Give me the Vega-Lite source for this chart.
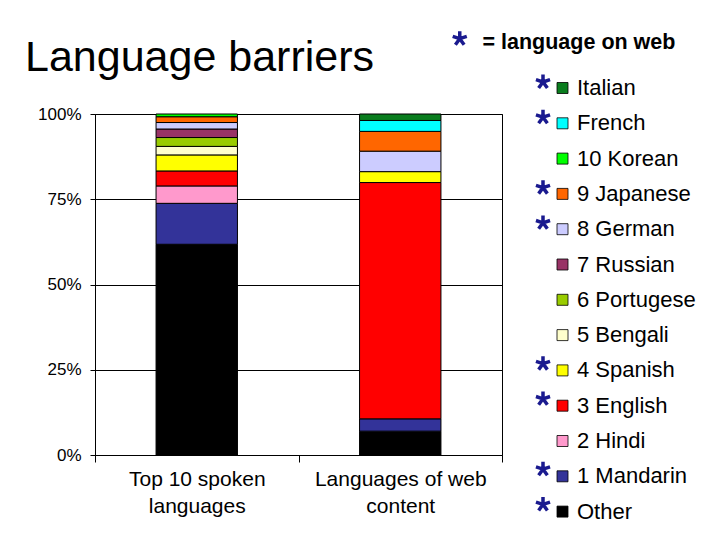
{
  "$schema": "https://vega.github.io/schema/vega-lite/v6.json",
  "autosize": {"type": "none"},
  "width": 407,
  "height": 341,
  "padding": {"left": 95, "top": 114, "right": 218, "bottom": 85},
  "background": "white",
  "config": {
    "font": "Liberation Sans",
    "view": {"stroke": "black", "strokeWidth": 1}
  },
  "title": {
    "text": "Language barriers",
    "fontSize": 43,
    "fontWeight": "normal",
    "color": "black",
    "anchor": "start",
    "frame": "group",
    "dx": -70,
    "dy": 124,
    "baseline": "alphabetic",
    "offset": 42
  },
  "data": {
    "values": [
      {"cat": "Top 10 spoken|languages", "lang": "Other", "pct": 61.8},
      {"cat": "Top 10 spoken|languages", "lang": "1 Mandarin", "pct": 12.0},
      {"cat": "Top 10 spoken|languages", "lang": "2 Hindi", "pct": 5.1},
      {"cat": "Top 10 spoken|languages", "lang": "3 English", "pct": 4.4},
      {"cat": "Top 10 spoken|languages", "lang": "4 Spanish", "pct": 4.7},
      {"cat": "Top 10 spoken|languages", "lang": "5 Bengali", "pct": 2.5},
      {"cat": "Top 10 spoken|languages", "lang": "6 Portugese", "pct": 2.6},
      {"cat": "Top 10 spoken|languages", "lang": "7 Russian", "pct": 2.5},
      {"cat": "Top 10 spoken|languages", "lang": "8 German", "pct": 1.9},
      {"cat": "Top 10 spoken|languages", "lang": "9 Japanese", "pct": 1.7},
      {"cat": "Top 10 spoken|languages", "lang": "10 Korean", "pct": 0.8},
      {"cat": "Languages of web|content", "lang": "Other", "pct": 7.0},
      {"cat": "Languages of web|content", "lang": "1 Mandarin", "pct": 3.6},
      {"cat": "Languages of web|content", "lang": "3 English", "pct": 69.3},
      {"cat": "Languages of web|content", "lang": "4 Spanish", "pct": 3.2},
      {"cat": "Languages of web|content", "lang": "8 German", "pct": 6.0},
      {"cat": "Languages of web|content", "lang": "9 Japanese", "pct": 5.8},
      {"cat": "Languages of web|content", "lang": "French", "pct": 3.2},
      {"cat": "Languages of web|content", "lang": "Italian", "pct": 1.9}
    ]
  },
  "resolve": {"scale": {"shape": "independent"}, "legend": {"shape": "independent"}},
  "layer": [
    {
      "transform": [
        {"calculate": "indexof(['Italian','French','10 Korean','9 Japanese','8 German','7 Russian','6 Portugese','5 Bengali','4 Spanish','3 English','2 Hindi','1 Mandarin','Other'], datum.lang)", "as": "idx"}
      ],
      "mark": {"type": "bar", "width": {"band": 0.4}, "stroke": "black", "strokeWidth": 1},
      "encoding": {
        "x": {
          "field": "cat",
          "type": "nominal",
          "sort": ["Top 10 spoken|languages", "Languages of web|content"],
          "scale": {"paddingInner": 0, "paddingOuter": 0},
          "axis": {
            "title": null,
            "labelAngle": 0,
            "labelExpr": "split(datum.label, '|')",
            "labelFontSize": 21,
            "labelLineHeight": 27,
            "labelColor": "black",
            "labelPadding": 6,
            "tickBand": "extent",
            "tickSize": 7,
            "tickColor": "black",
            "domainColor": "black",
            "grid": false
          }
        },
        "y": {
          "field": "pct",
          "type": "quantitative",
          "stack": "zero",
          "scale": {"domain": [0, 100], "nice": false},
          "axis": {
            "title": null,
            "values": [0, 25, 50, 75, 100],
            "labelExpr": "datum.value + '%'",
            "labelFontSize": 17,
            "labelColor": "black",
            "labelPadding": 9,
            "tickSize": 5,
            "tickColor": "black",
            "domainColor": "black",
            "grid": true,
            "gridColor": "black",
            "gridOpacity": 1,
            "gridWidth": 1.2
          }
        },
        "color": {
          "field": "lang",
          "type": "nominal",
          "scale": {
            "domain": ["Italian", "French", "10 Korean", "9 Japanese", "8 German", "7 Russian", "6 Portugese", "5 Bengali", "4 Spanish", "3 English", "2 Hindi", "1 Mandarin", "Other"],
            "range": ["#0a7d1e", "#00ffff", "#00ff00", "#ff6600", "#ccccff", "#993366", "#99cc00", "#ffffcc", "#ffff00", "#ff0000", "#ff99cc", "#333399", "#000000"]
          },
          "legend": {
            "title": null,
            "orient": "none",
            "legendX": 456.5,
            "legendY": -37,
            "padding": 0,
            "symbolType": "square",
            "symbolSize": 121,
            "symbolStrokeColor": "black",
            "symbolStrokeWidth": 0.8,
            "symbolOpacity": 1,
            "labelFontSize": 22,
            "labelColor": "black",
            "labelOffset": 3.5,
            "rowPadding": 13.3,
            "labelLimit": 300
          }
        },
        "order": {"field": "idx", "type": "quantitative", "sort": "descending"}
      }
    },
    {
      "transform": [{"filter": "false"}],
      "mark": {"type": "point", "filled": false, "color": "#1a1a8f", "strokeWidth": 3.5},
      "encoding": {
        "shape": {
          "field": "lang",
          "type": "nominal",
          "scale": {
            "domain": ["Italian", "French", "10 Korean", "9 Japanese", "8 German", "7 Russian", "6 Portugese", "5 Bengali", "4 Spanish", "3 English", "2 Hindi", "1 Mandarin", "Other"],
            "range": [
              "M0,0L0,-1M0,0L0.95,-0.31M0,0L0.59,0.81M0,0L-0.59,0.81M0,0L-0.95,-0.31",
              "M0,0L0,-1M0,0L0.95,-0.31M0,0L0.59,0.81M0,0L-0.59,0.81M0,0L-0.95,-0.31",
              "M0,-1M0.95,-0.31M0.59,0.81M-0.59,0.81M-0.95,-0.31",
              "M0,0L0,-1M0,0L0.95,-0.31M0,0L0.59,0.81M0,0L-0.59,0.81M0,0L-0.95,-0.31",
              "M0,0L0,-1M0,0L0.95,-0.31M0,0L0.59,0.81M0,0L-0.59,0.81M0,0L-0.95,-0.31",
              "M0,-1M0.95,-0.31M0.59,0.81M-0.59,0.81M-0.95,-0.31",
              "M0,-1M0.95,-0.31M0.59,0.81M-0.59,0.81M-0.95,-0.31",
              "M0,-1M0.95,-0.31M0.59,0.81M-0.59,0.81M-0.95,-0.31",
              "M0,0L0,-1M0,0L0.95,-0.31M0,0L0.59,0.81M0,0L-0.59,0.81M0,0L-0.95,-0.31",
              "M0,0L0,-1M0,0L0.95,-0.31M0,0L0.59,0.81M0,0L-0.59,0.81M0,0L-0.95,-0.31",
              "M0,-1M0.95,-0.31M0.59,0.81M-0.59,0.81M-0.95,-0.31",
              "M0,0L0,-1M0,0L0.95,-0.31M0,0L0.59,0.81M0,0L-0.59,0.81M0,0L-0.95,-0.31",
              "M0,0L0,-1M0,0L0.95,-0.31M0,0L0.59,0.81M0,0L-0.59,0.81M0,0L-0.95,-0.31"
            ]
          },
          "legend": {
            "title": null,
            "orient": "none",
            "legendX": 437,
            "legendY": -43,
            "padding": 0,
            "symbolSize": 220,
            "symbolStrokeColor": "#1a1a8f",
            "symbolFillColor": "transparent",
            "symbolStrokeWidth": 3.5,
            "symbolOpacity": 1,
            "labelFontSize": 22,
            "labelOpacity": 0,
            "labelExpr": "' '",
            "labelOffset": 10,
            "rowPadding": 6.2,
            "labelLimit": 300
          }
        }
      }
    },
    {
      "transform": [{"filter": "false"}],
      "mark": {"type": "point", "filled": false, "color": "#1a1a8f", "strokeWidth": 3.5},
      "encoding": {
        "shape": {
          "field": "note",
          "type": "nominal",
          "scale": {
            "domain": ["= language on web"],
            "range": ["M0,-0.55L0,-1.55M0,-0.55L0.95,-0.86M0,-0.55L0.59,0.26M0,-0.55L-0.59,0.26M0,-0.55L-0.95,-0.86"]
          },
          "legend": {
            "title": null,
            "orient": "none",
            "legendX": 354,
            "legendY": -82,
            "padding": 0,
            "symbolSize": 220,
            "symbolStrokeColor": "#1a1a8f",
            "symbolFillColor": "transparent",
            "symbolStrokeWidth": 3.5,
            "symbolOpacity": 1,
            "labelFontSize": 21.5,
            "labelFontWeight": "bold",
            "labelColor": "black",
            "labelOffset": 12,
            "labelLimit": 300
          }
        }
      }
    }
  ]
}
